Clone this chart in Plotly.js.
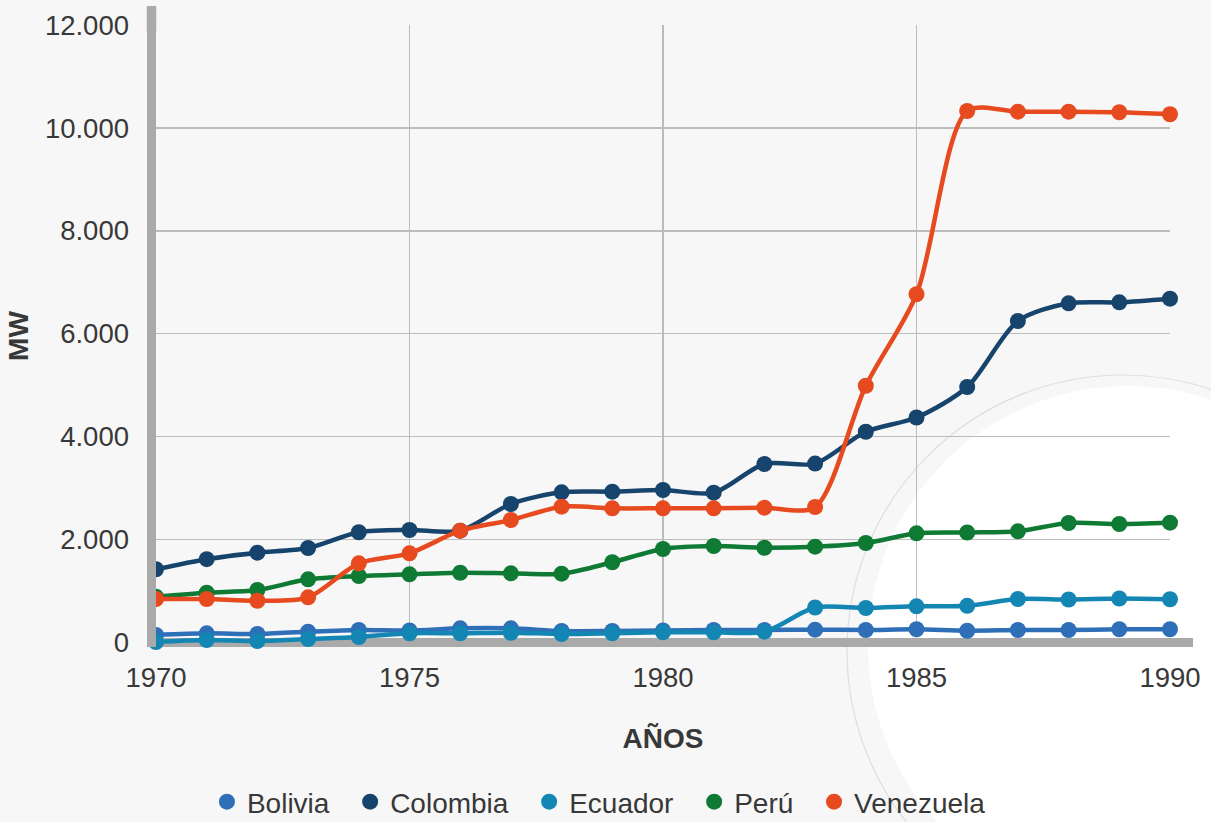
<!DOCTYPE html>
<html>
<head>
<meta charset="utf-8">
<script src="https://cdn.plot.ly/plotly-3.0.1.min.js"></script>
<style>
html,body{margin:0;padding:0;background:#f7f7f7;}
#chart{width:1211px;height:822px;}
</style>
</head>
<body>
<div id="chart"></div>
<script>
// ---- data ----
const years = [1970,1971,1972,1973,1974,1975,1976,1977,1978,1979,1980,1981,1982,1983,1984,1985,1986,1987,1988,1989,1990];
const bolivia   = [146,179,165,210,243,233,276,276,223,223,233,243,243,249,243,257,229,243,243,257,257];
const colombia  = [1423,1619,1745,1836,2142,2186,2173,2692,2919,2931,2964,2911,3469,3477,4095,4373,4965,6248,6592,6611,6681];
const ecuador   = [10,49,29,68,107,179,179,190,165,179,198,198,210,680,670,703,713,845,836,855,840];
const peru      = [890,968,1020,1228,1292,1325,1356,1345,1337,1559,1817,1875,1842,1862,1934,2122,2138,2161,2322,2303,2328];
const venezuela = [845,845,812,878,1539,1733,2173,2381,2639,2608,2608,2608,2620,2633,4989,6767,10329,10315,10315,10304,10265];

const seriesNames  = ['Bolivia','Colombia','Ecuador','Perú','Venezuela'];
const seriesColors = ['#2f6fb8','#17446c','#1486b4','#0e7a33','#e64a1e'];
const seriesValues = [bolivia, colombia, ecuador, peru, venezuela];
const yTicks = [0,2000,4000,6000,8000,10000,12000];
const xTicks = [1970,1975,1980,1985,1990];

const FONT = 'Liberation Sans, Arial, Helvetica, sans-serif';
const TXT = '#383838';
const AXIS = '#aaaaaa';

const traces = [];
seriesNames.forEach((name, i) => {
  traces.push({
    type: 'scatter', mode: 'lines+markers', name: name,
    x: years, y: seriesValues[i], showlegend: false, cliponaxis: false,
    line: {color: seriesColors[i], width: 4.5, shape: 'spline', smoothing: 0.8},
    marker: {color: seriesColors[i], size: 16}
  });
});
// legend entries (dots only)
seriesNames.forEach((name, i) => {
  traces.push({
    type: 'scatter', mode: 'markers', name: name + '\u00a0\u2009\u200a',
    x: [null], y: [null], showlegend: true, hoverinfo: 'skip',
    marker: {color: seriesColors[i], size: 16}
  });
});

const layout = {
  width: 1211, height: 822,
  paper_bgcolor: '#f7f7f7', plot_bgcolor: 'rgba(0,0,0,0)',
  margin: {l: 156, r: 41, t: 25, b: 175, autoexpand: false},
  separators: ',.',
  font: {family: FONT, size: 28, color: TXT},
  xaxis: {
    range: [1970, 1990], tickvals: xTicks, ticks: '',
    showgrid: true, gridcolor: '#bcbcbc', gridwidth: 1.4,
    zeroline: false, showline: false,
    automargin: false,
    ticklabelstandoff: 11,
    tickfont: {family: FONT, size: 27.5, color: TXT},
    title: {text: 'AÑOS', standoff: 36, font: {family: FONT, size: 28, color: TXT, weight: 'bold'}}
  },
  yaxis: {
    range: [-87.4, 12000], tickvals: yTicks, tickformat: ',d', ticks: '',
    showgrid: true, gridcolor: '#bcbcbc', gridwidth: 1.4,
    zeroline: true, zerolinecolor: AXIS, zerolinewidth: 9,
    showline: true, linecolor: AXIS, linewidth: 9.5,
    automargin: false,
    ticklabelstandoff: 12,
    tickfont: {family: FONT, size: 27.5, color: TXT},
    title: {text: 'MW', standoff: 12, font: {family: FONT, size: 28, color: TXT, weight: 'bold'}}
  },
  legend: {
    orientation: 'h', x: 0.4442, xanchor: 'center',
    y: -0.2492, yanchor: 'middle',
    bgcolor: 'rgba(0,0,0,0)', font: {family: FONT, size: 28, color: TXT}
  },
  shapes: [
    {type: 'circle', xref: 'x domain', yref: 'y domain', layer: 'below',
     x0: 0.6815, x1: 1.2258, y0: -0.4502, y1: 0.4373,
     fillcolor: 'rgba(0,0,0,0)', line: {color: '#dedede', width: 1.2}},
    {type: 'circle', xref: 'x domain', yref: 'y domain', layer: 'below',
     x0: 0.7022, x1: 1.2150, y0: -0.4164, y1: 0.4196,
     fillcolor: '#ffffff', line: {width: 0}},
    // axis-line extensions beyond the plot area
    {type: 'line', xref: 'x domain', yref: 'y domain', layer: 'below',
     x0: -0.00444, x1: -0.00444, y0: 0.99, y1: 1.0305,
     line: {color: AXIS, width: 9.5}},
    {type: 'line', xref: 'x domain', yref: 'y domain', layer: 'below',
     x0: 0.99, x1: 1.0227, y0: 0.00723, y1: 0.00723,
     line: {color: AXIS, width: 9}},
    {type: 'line', xref: 'x domain', yref: 'y domain', layer: 'below',
     x0: -0.00888, x1: 0.01, y0: 0.00723, y1: 0.00723,
     line: {color: AXIS, width: 9}}
  ],
  hovermode: false
};

Plotly.newPlot('chart', traces, layout, {displayModeBar: false, staticPlot: true});
</script>
</body>
</html>
